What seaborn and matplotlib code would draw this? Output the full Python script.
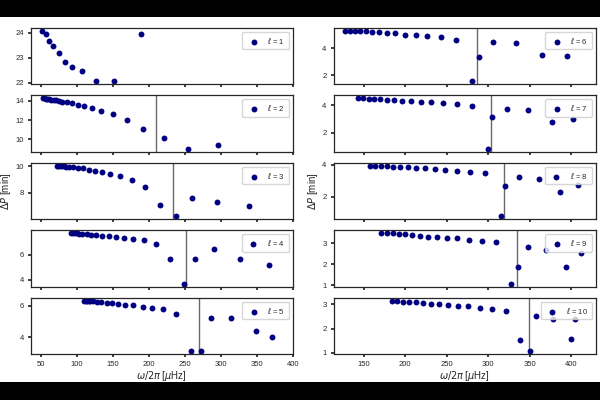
import matplotlib
matplotlib.use('Agg')
import matplotlib.pyplot as plt
from matplotlib.patches import Rectangle
from matplotlib.ticker import MultipleLocator
import seaborn as sns
import pandas as pd

# ------------------------------
# Data: frequency (muHz) and period spacing (min) per degree l
# ------------------------------
l1_x = [52.2, 57.3, 61.9, 67.4, 74.9, 83.7, 93.7, 107.7, 126.2, 151.3, 189.5]
l1_y = [24.09, 23.97, 23.69, 23.47, 23.19, 22.83, 22.63, 22.47, 22.08, 22.05, 23.96]

l2_x = [52.8, 54.8, 57.0, 59.4, 62.0, 64.9, 68.1, 71.6, 75.6, 80.2, 86.6, 93.1,
        101.5, 110.3, 121.0, 134.0, 149.7, 169.2, 192.3, 220.5, 254.5, 295.7]
l2_y = [14.30, 14.27, 14.24, 14.21, 14.18, 14.14, 14.10, 14.05, 14.00, 13.94, 13.86, 13.76,
        13.61, 13.48, 13.30, 12.96, 12.65, 12.05, 11.05, 10.11, 9.00, 9.39]

l3_x = [72.6, 74.6, 76.7, 79.0, 81.7, 85.2, 89.7, 94.5, 101.8, 109.2, 116.8, 126.0,
        135.3, 146.4, 160.0, 176.2, 194.3, 215.7, 237.5, 260.4, 295.2, 338.7]
l3_y = [10.06, 10.05, 10.04, 10.02, 10.00, 9.98, 9.95, 9.93, 9.90, 9.88, 9.73, 9.68,
        9.60, 9.43, 9.30, 8.98, 8.47, 7.05, 6.20, 7.57, 7.29, 7.02]

l4_x = [92.2, 94.8, 97.6, 100.6, 103.8, 107.4, 113.9, 120.3, 126.9, 135.3, 145.5,
        153.9, 165.0, 178.1, 192.9, 209.6, 230.0, 248.6, 263.9, 289.9, 326.1, 366.9]
l4_y = [7.74, 7.73, 7.72, 7.71, 7.70, 7.68, 7.65, 7.61, 7.58, 7.52, 7.48,
        7.42, 7.36, 7.26, 7.15, 6.86, 5.68, 3.66, 5.63, 6.43, 5.66, 5.18]

l5_x = [110.2, 112.2, 114.3, 116.4, 118.7, 123.2, 128.7, 134.3, 141.8, 149.2, 157.5, 167.7,
        178.8, 191.9, 204.4, 219.7, 237.8, 258.1, 272.0, 286.4, 314.3, 349.0, 371.3]
l5_y = [6.32, 6.31, 6.30, 6.30, 6.29, 6.27, 6.25, 6.21, 6.19, 6.17, 6.10, 6.06,
        6.02, 5.94, 5.88, 5.79, 5.48, 3.17, 3.11, 5.21, 5.23, 4.38, 4.04]

l6_x = [127.4, 133.5, 139.5, 145.8, 153.0, 160.4, 168.8, 177.9, 188.1, 199.8,
        212.6, 226.7, 242.8, 260.7, 281.0, 288.7, 306.3, 333.4, 365.1, 394.9]
l6_y = [5.28, 5.26, 5.26, 5.24, 5.22, 5.19, 5.17, 5.09, 5.07, 4.99,
        4.97, 4.90, 4.82, 4.58, 1.56, 3.36, 4.44, 4.34, 3.51, 3.42]

l7_x = [143.1, 149.5, 156.0, 162.8, 170.0, 178.1, 186.9, 196.6, 207.1, 218.8,
        231.5, 246.0, 262.2, 280.3, 300.3, 304.4, 323.2, 348.6, 377.5, 402.8]
l7_y = [4.53, 4.51, 4.48, 4.46, 4.43, 4.41, 4.38, 4.33, 4.31, 4.26,
        4.22, 4.17, 4.09, 3.95, 0.83, 3.15, 3.73, 3.64, 2.79, 3.01]

l8_x = [157.6, 164.0, 170.9, 178.1, 185.7, 194.1, 203.1, 213.1, 223.6, 235.6,
        248.4, 262.5, 278.6, 296.3, 315.6, 320.1, 337.3, 361.1, 386.8, 408.1]
l8_y = [3.95, 3.95, 3.93, 3.91, 3.89, 3.87, 3.85, 3.81, 3.77, 3.73,
        3.69, 3.64, 3.58, 3.48, 0.79, 2.68, 3.25, 3.13, 2.33, 2.76]

l9_x = [170.9, 178.1, 185.0, 192.2, 199.8, 208.3, 217.6, 227.2, 238.1, 250.1,
        262.9, 277.4, 293.1, 310.0, 328.1, 335.8, 348.6, 370.3, 394.0, 412.1]
l9_y = [3.50, 3.49, 3.48, 3.44, 3.43, 3.40, 3.36, 3.33, 3.30, 3.27,
        3.24, 3.17, 3.11, 3.05, 1.06, 1.86, 2.81, 2.70, 1.88, 2.55]

l10_x = [183.8, 190.2, 197.0, 204.3, 212.7, 221.5, 230.8, 240.8, 251.7, 263.8,
         276.2, 289.9, 304.8, 321.3, 338.9, 350.6, 358.2, 378.3, 400.1, 404.9]
l10_y = [3.15, 3.14, 3.11, 3.10, 3.07, 3.04, 3.02, 2.99, 2.96, 2.93,
         2.91, 2.85, 2.80, 2.71, 1.55, 1.06, 2.50, 2.39, 1.59, 2.40]

# vertical marker frequency per degree (None = no line)
vlines = [None, 209.4, 234.0, 251.7, 269.2, 286.3, 303.6, 319.6, 335.3, 349.8]

series = [(l1_x, l1_y), (l2_x, l2_y), (l3_x, l3_y), (l4_x, l4_y), (l5_x, l5_y),
          (l6_x, l6_y), (l7_x, l7_y), (l8_x, l8_y), (l9_x, l9_y), (l10_x, l10_y)]

# ------------------------------
# Style
# ------------------------------
sns.set_theme(style='ticks')
plt.rcParams['font.family'] = ['Liberation Sans', 'DejaVu Sans']
plt.rcParams['font.size'] = 5.5
plt.rcParams['xtick.labelsize'] = 5.5
plt.rcParams['ytick.labelsize'] = 5.5
plt.rcParams['axes.labelsize'] = 7
plt.rcParams['legend.fontsize'] = 5.5
plt.rcParams['xtick.major.size'] = 2.5
plt.rcParams['ytick.major.size'] = 2.5
plt.rcParams['xtick.major.pad'] = 2.5
plt.rcParams['ytick.major.pad'] = 2.5
plt.rcParams['axes.linewidth'] = 0.9

fig, axes = plt.subplots(5, 2, sharex='col', figsize=(6, 4), dpi=100)
fig.patch.set_facecolor('black')
fig.patches.append(Rectangle((0, 18 / 400), 1, 365 / 400, transform=fig.transFigure,
                             facecolor='white', edgecolor='none', zorder=-1))
fig.subplots_adjust(left=0.051, right=0.993, top=0.93, bottom=0.115, hspace=0.205, wspace=0.155)

# ------------------------------
# Panels
# ------------------------------
for i, (xs, ys) in enumerate(series):
    ax = axes[i % 5, i // 5]
    df = pd.DataFrame({'freq': xs, 'dP': ys})
    sns.scatterplot(data=df, x='freq', y='dP', ax=ax, color='navy', s=18, linewidth=0,
                    label=r'$\ell$ = %d' % (i + 1))
    if vlines[i] is not None:
        ax.axvline(vlines[i], color='dimgray', lw=1, zorder=0)
    ax.legend(loc='upper right', handletextpad=0.8, borderpad=0.5)
    ax.set_xlabel('')
    ax.set_ylabel('')

for ax in axes[:, 0]:
    ax.set_xlim(36, 400)
    ax.xaxis.set_major_locator(MultipleLocator(50))
for ax in axes[:, 1]:
    ax.set_xlim(113.4, 430)
    ax.xaxis.set_major_locator(MultipleLocator(50))

axes[2, 0].set_ylabel(r'$\Delta P$ [min]', labelpad=1.5)
axes[2, 1].set_ylabel(r'$\Delta P$ [min]', labelpad=1.5)
axes[4, 0].set_xlabel(r'$\omega/2\pi$ [$\mu$Hz]', labelpad=1)
axes[4, 1].set_xlabel(r'$\omega/2\pi$ [$\mu$Hz]', labelpad=1)

plt.savefig('out.png', dpi=100, facecolor=fig.get_facecolor())
plt.close()
